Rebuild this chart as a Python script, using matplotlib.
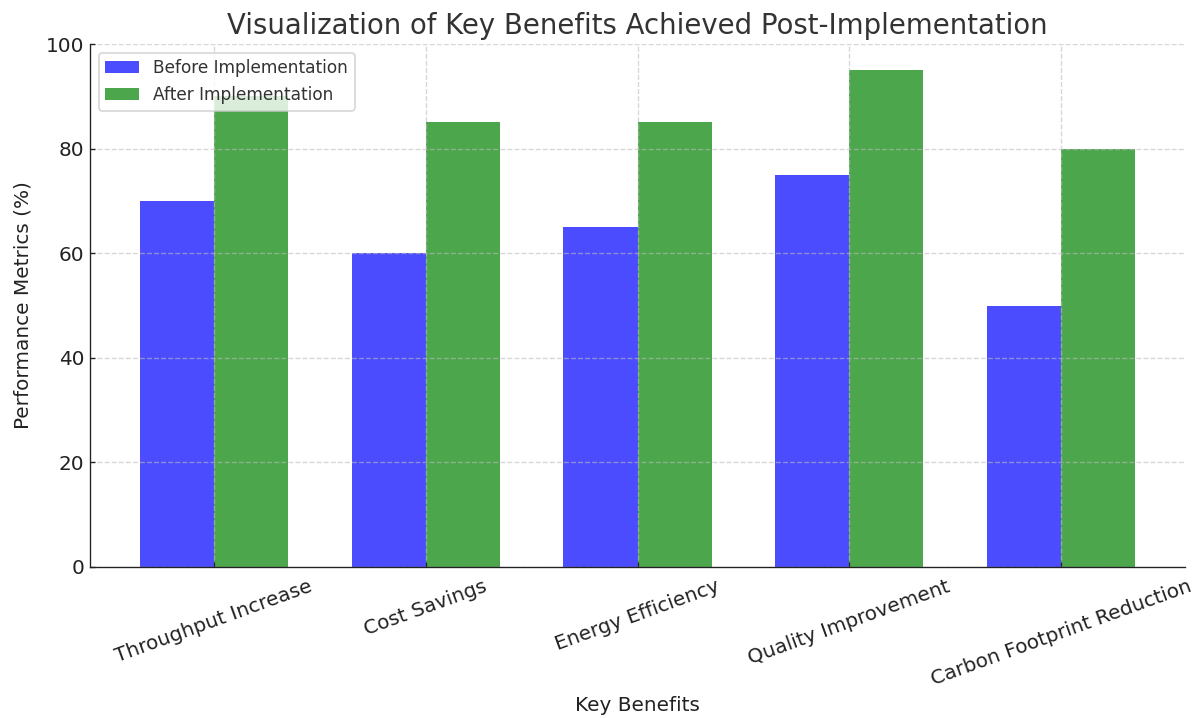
import matplotlib
matplotlib.use("Agg")
import matplotlib.pyplot as plt
import numpy as np

categories = ["Throughput Increase", "Cost Savings", "Energy Efficiency",
              "Quality Improvement", "Carbon Footprint Reduction"]
before = [70, 60, 65, 75, 50]
after = [90, 85, 85, 95, 80]

fig = plt.figure(figsize=(1203/120, 718/120), dpi=120)
ax = fig.add_axes([90/1203, 1-567/718, (1185-90)/1203, (567-44)/718])

x = np.arange(len(categories))
w = 0.35
ax.bar(x - w/2, before, w, color="blue", alpha=0.7, label="Before Implementation")
ax.bar(x + w/2, after, w, color="green", alpha=0.7, label="After Implementation")

ax.set_title("Visualization of Key Benefits Achieved Post-Implementation", fontsize=16.5, color="#333333")
ax.set_xlabel("Key Benefits", fontsize=12, color="#222222")
ax.set_ylabel("Performance Metrics (%)", fontsize=12, color="#222222", labelpad=8)
ax.set_xticks(x)
ax.set_xticklabels(categories, rotation=20, fontsize=12, color="#222222")
ax.tick_params(axis="y", labelsize=12, labelcolor="#222222")
ax.tick_params(axis="both", direction="in", length=3, color="#222222")
ax.tick_params(axis="x", pad=6)
ax.set_ylim(0, 100)
ax.grid(True, linestyle="--", alpha=0.6, color="#bbbbbb")
ax.spines["top"].set_visible(False)
ax.spines["right"].set_visible(False)
for s in ("left", "bottom"):
    ax.spines[s].set_color("#222222")
leg = ax.legend(loc="upper left", fontsize=10.2)
for t in leg.get_texts():
    t.set_color("#333333")

fig.savefig("out.png", dpi=120)
